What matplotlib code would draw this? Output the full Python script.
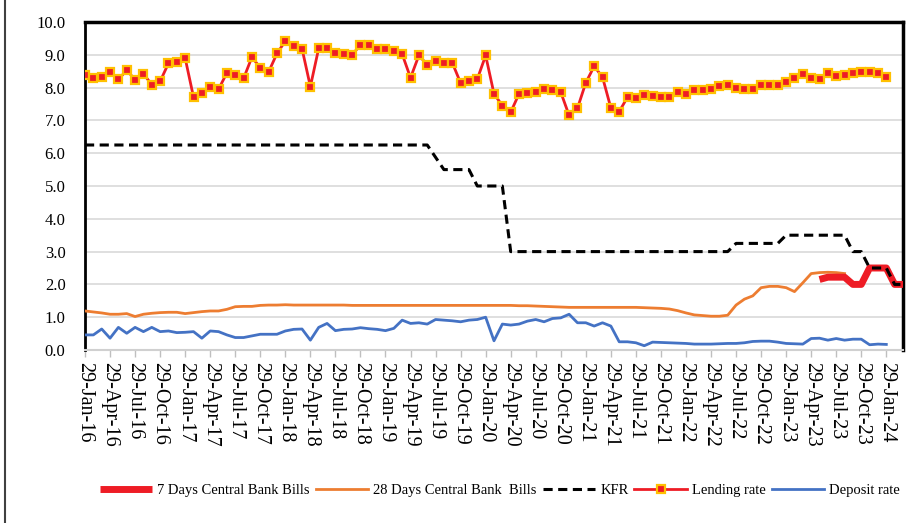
import numpy as np
import pandas as pd
import matplotlib
matplotlib.use("Agg")
import matplotlib.pyplot as plt
from matplotlib.lines import Line2D

plt.rcParams['font.family'] = ['Liberation Serif', 'DejaVu Serif']

# %% datos (mensuales, ene-2016 = 0)
tick_labels = list(pd.date_range('2016-01-01', periods=33, freq='3MS').strftime('29-%b-%y'))

lending = [8.38, 8.30, 8.32, 8.48, 8.25, 8.53, 8.24, 8.42, 8.09, 8.19,
           8.74, 8.77, 8.90, 7.71, 7.84, 8.01, 7.95, 8.45, 8.38, 8.28,
           8.93, 8.60, 8.48, 9.04, 9.42, 9.27, 9.19, 8.03, 9.20, 9.20,
           9.06, 9.03, 9.00, 9.30, 9.30, 9.17, 9.17, 9.13, 9.02, 8.30,
           8.98, 8.70, 8.80, 8.76, 8.76, 8.14, 8.21, 8.26, 8.98, 7.81,
           7.45, 7.25, 7.81, 7.83, 7.88, 7.96, 7.92, 7.86, 7.15, 7.37,
           8.15, 8.65, 8.32, 7.38, 7.27, 7.71, 7.68, 7.76, 7.75, 7.72,
           7.70, 7.86, 7.82, 7.92, 7.92, 7.96, 8.04, 8.07, 7.99, 7.97,
           7.97, 8.08, 8.08, 8.09, 8.18, 8.29, 8.42, 8.28, 8.27, 8.44,
           8.34, 8.39, 8.44, 8.49, 8.49, 8.46, 8.33]

deposit = [0.46, 0.46, 0.64, 0.36, 0.69, 0.51, 0.69, 0.56, 0.69, 0.56,
           0.58, 0.53, 0.54, 0.56, 0.36, 0.58, 0.56, 0.46, 0.38, 0.38,
           0.43, 0.48, 0.48, 0.48, 0.58, 0.63, 0.64, 0.30, 0.69, 0.81,
           0.59, 0.63, 0.64, 0.68, 0.65, 0.63, 0.59, 0.66, 0.91, 0.81,
           0.83, 0.79, 0.93, 0.91, 0.89, 0.86, 0.91, 0.93, 1.00, 0.28,
           0.79, 0.76, 0.79, 0.88, 0.93, 0.86, 0.96, 0.98, 1.09, 0.83,
           0.83, 0.73, 0.83, 0.73, 0.25, 0.25, 0.22, 0.13, 0.24, 0.23,
           0.22, 0.21, 0.20, 0.18, 0.18, 0.18, 0.19, 0.20, 0.20, 0.22,
           0.26, 0.27, 0.27, 0.24, 0.20, 0.19, 0.18, 0.35, 0.36, 0.30,
           0.35, 0.30, 0.33, 0.33, 0.16, 0.18, 0.17]

bills_28 = [1.19, 1.16, 1.13, 1.09, 1.09, 1.11, 1.02, 1.09, 1.12, 1.14,
            1.15, 1.15, 1.11, 1.14, 1.17, 1.19, 1.19, 1.24, 1.32, 1.33,
            1.33, 1.36, 1.37, 1.37, 1.38, 1.37, 1.37, 1.37, 1.37, 1.37,
            1.37, 1.37, 1.36, 1.36, 1.36, 1.36, 1.36, 1.36, 1.36, 1.36,
            1.36, 1.36, 1.36, 1.36, 1.36, 1.36, 1.36, 1.36, 1.36, 1.36,
            1.36, 1.36, 1.35, 1.35, 1.34, 1.33, 1.32, 1.31, 1.30, 1.30,
            1.30, 1.30, 1.30, 1.30, 1.30, 1.30, 1.30, 1.29, 1.28, 1.27,
            1.25, 1.20, 1.13, 1.07, 1.05, 1.03, 1.03, 1.06, 1.37, 1.55,
            1.65, 1.90, 1.94, 1.94, 1.90, 1.78, 2.05, 2.33, 2.36, 2.37,
            2.36, 2.33]

kfr = ([6.25] * 42 + [5.875] + [5.5] * 4 + [5.0] * 4 + [3.0] * 27
       + [3.25] * 6 + [3.5] * 8 + [3.0] * 2 + [2.5] * 3 + [2.0] * 2)

bills_7_start = 88
bills_7 = [2.15, 2.22, 2.22, 2.22, 2.0, 2.0, 2.5, 2.5, 2.5, 2.0, 2.0]

# %% figura
fig = plt.figure(figsize=(9.24, 5.23), dpi=100)
ax = fig.add_axes([85 / 924, 1 - 350 / 523, 818 / 924, 328 / 523])

x_lend = np.arange(len(lending))
ax.plot(np.arange(bills_7_start, bills_7_start + len(bills_7)), bills_7,
        color='#EE1C25', lw=5, solid_capstyle='butt', label='7 Days Central Bank Bills', zorder=4)
ax.plot(np.arange(len(bills_28)), bills_28, color='#ED7D31', lw=2,
        label='28 Days Central Bank  Bills', zorder=3)
ax.plot(np.arange(len(kfr)), kfr, color='black', lw=2.2, ls=(0, (3, 1.8)),
        label='KFR', zorder=5)
ax.plot(x_lend, lending, color='#EE1C25', lw=2, marker='s', ms=6,
        mfc='#EE1C25', mec='#FFC000', mew=1.6, label='Lending rate', zorder=6)
ax.plot(np.arange(len(deposit)), deposit, color='#4472C4', lw=2,
        label='Deposit rate', zorder=3)

ax.set_xlim(0, 98)
ax.set_ylim(0, 10)
ax.set_yticks(np.arange(0, 10.1, 1.0))
ax.set_yticklabels([f'{v:.1f}' for v in np.arange(0, 10.1, 1.0)], fontsize=12)
ax.set_xticks(np.arange(0, 97, 3))
ax.set_xticklabels(tick_labels, rotation=270, fontsize=14.5, va='top', ha='center')
ax.tick_params(axis='y', length=0, pad=14)
ax.tick_params(axis='x', length=5, color='#bfbfbf', width=1, pad=4)
ax.grid(axis='y', color='#d9d9d9', lw=1.2)
ax.set_axisbelow(True)

for s in ['left', 'top', 'right']:
    ax.spines[s].set_color('black')
ax.spines['left'].set_linewidth(2)
ax.spines['top'].set_linewidth(2.5)
ax.spines['right'].set_linewidth(2.5)
ax.spines['bottom'].set_color('#d0d0d0')
ax.spines['bottom'].set_linewidth(1.5)

leg = fig.legend(loc='center', bbox_to_anchor=(0.541, 1 - 490 / 523), ncol=5,
                 frameon=False, fontsize=10.5, handlelength=3.6, columnspacing=0.4,
                 handletextpad=0.35)

# borde izquierdo del recuadro
fig.add_artist(Line2D([5 / 924, 5 / 924], [0, 1], color='#404040', lw=1.5))

fig.savefig('out.png', dpi=100)
